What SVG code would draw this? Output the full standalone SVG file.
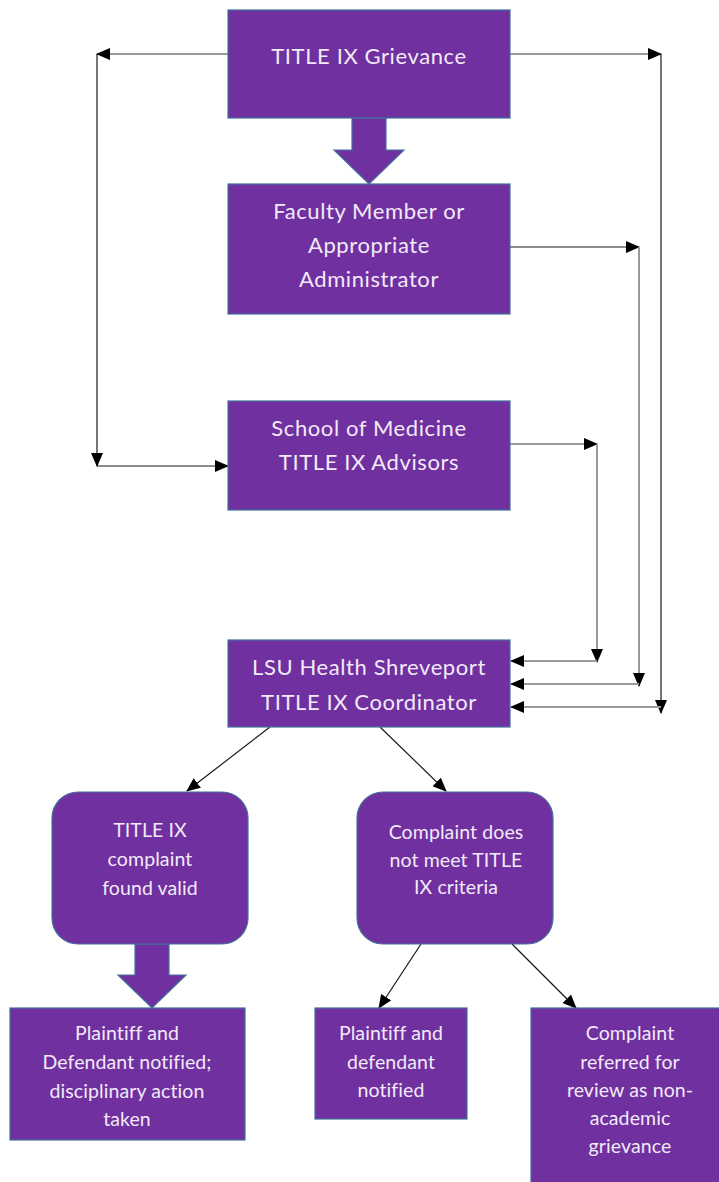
<svg xmlns="http://www.w3.org/2000/svg" width="719" height="1182" viewBox="0 0 719 1182">
<style>
.box{fill:#7030A0;stroke:#41719C;stroke-width:1.2}
.t{fill:#F2EAF7;font-family:Lato,"Open Sans",sans-serif;text-anchor:middle}
.big{font-size:22px;letter-spacing:0.6px}
.sm{font-size:19.5px;letter-spacing:0.1px}
.g{fill:none;stroke:#9a9a9a;stroke-width:2}
.k{fill:none;stroke:#1a1a1a;stroke-width:1.2}
.ka{fill:none;stroke:#1a1a1a;stroke-width:1.2;marker-end:url(#ah)}
.ga{fill:none;stroke:#9a9a9a;stroke-width:2;marker-end:url(#ah)}
</style>
<defs>
<marker id="ah" markerUnits="userSpaceOnUse" markerWidth="14" markerHeight="12" refX="13" refY="6" orient="auto">
<path d="M0,0 L14,6 L0,12 Z" fill="#000"/>
</marker>
</defs>
<rect width="719" height="1182" fill="#fff"/>
<g id="connectors">
<path class="ga" d="M228,54 H97"/>
<path class="ka" d="M97,54 V466"/>
<path class="ka" d="M97,466 H228"/>
<path class="ga" d="M510,54 H661"/>
<path class="ka" d="M661,54 V713"/>
<path class="ga" d="M661,707 H511"/>
<path class="ka" d="M510,247 H639"/>
<path class="ga" d="M639,247 V686"/>
<path class="ga" d="M639,684 H511"/>
<path class="ga" d="M510,444 H597"/>
<path class="ga" d="M597,444 V662"/>
<path class="ga" d="M597,661 H511"/>
<path class="ka" d="M270,727 L187,791"/>
<path class="ka" d="M380,727 L446,791"/>
<path class="ka" d="M421,944 L379,1008"/>
<path class="ka" d="M512,944 L576,1008"/>
<path id="blockarrow1" class="box" d="M352,118 H386 V150 H404 L369,184 L334,150 H352 Z"/>
<path id="blockarrow2" class="box" d="M135,944 H169 V975 H186 L152,1008 L118,975 H135 Z"/>
</g>
<g id="n1"><rect class="box" x="228" y="10" width="282" height="108"/><text class="t big" x="369" y="64">TITLE IX Grievance</text></g>
<g id="n2"><rect class="box" x="228" y="184" width="282" height="130"/>
<text class="t big" x="369" y="219">Faculty Member or</text><text class="t big" x="369" y="253">Appropriate</text><text class="t big" x="369" y="287">Administrator</text></g>
<g id="n3"><rect class="box" x="228" y="401" width="282" height="109"/>
<text class="t big" x="369" y="436">School of Medicine</text><text class="t big" x="369" y="470">TITLE IX Advisors</text></g>
<g id="n4"><rect class="box" x="228" y="640" width="282" height="87"/>
<text class="t big" x="369" y="675">LSU Health Shreveport</text><text class="t big" x="369" y="710">TITLE IX Coordinator</text></g>
<g id="n5"><rect class="box" x="52" y="792" width="196" height="152" rx="26"/>
<text class="t sm" x="150" y="837">TITLE IX</text><text class="t sm" x="150" y="866">complaint</text><text class="t sm" x="150" y="895">found valid</text></g>
<g id="n6"><rect class="box" x="357" y="792" width="196" height="152" rx="26"/>
<text class="t sm" x="456" y="839">Complaint does</text><text class="t sm" x="456" y="867">not meet TITLE</text><text class="t sm" x="456" y="894">IX criteria</text></g>
<g id="n7"><rect class="box" x="10" y="1008" width="235" height="132"/>
<text class="t sm" x="127" y="1040">Plaintiff and</text><text class="t sm" x="127" y="1069">Defendant notified;</text><text class="t sm" x="127" y="1098">disciplinary action</text><text class="t sm" x="127" y="1126">taken</text></g>
<g id="n8"><rect class="box" x="315" y="1008" width="152" height="111"/>
<text class="t sm" x="391" y="1040">Plaintiff and</text><text class="t sm" x="391" y="1069">defendant</text><text class="t sm" x="391" y="1097">notified</text></g>
<g id="n9"><rect class="box" x="531" y="1008" width="195" height="180"/>
<text class="t sm" x="630" y="1040">Complaint</text><text class="t sm" x="630" y="1069">referred for</text><text class="t sm" x="630" y="1097">review as non-</text><text class="t sm" x="630" y="1125">academic</text><text class="t sm" x="630" y="1153">grievance</text></g>
</svg>
